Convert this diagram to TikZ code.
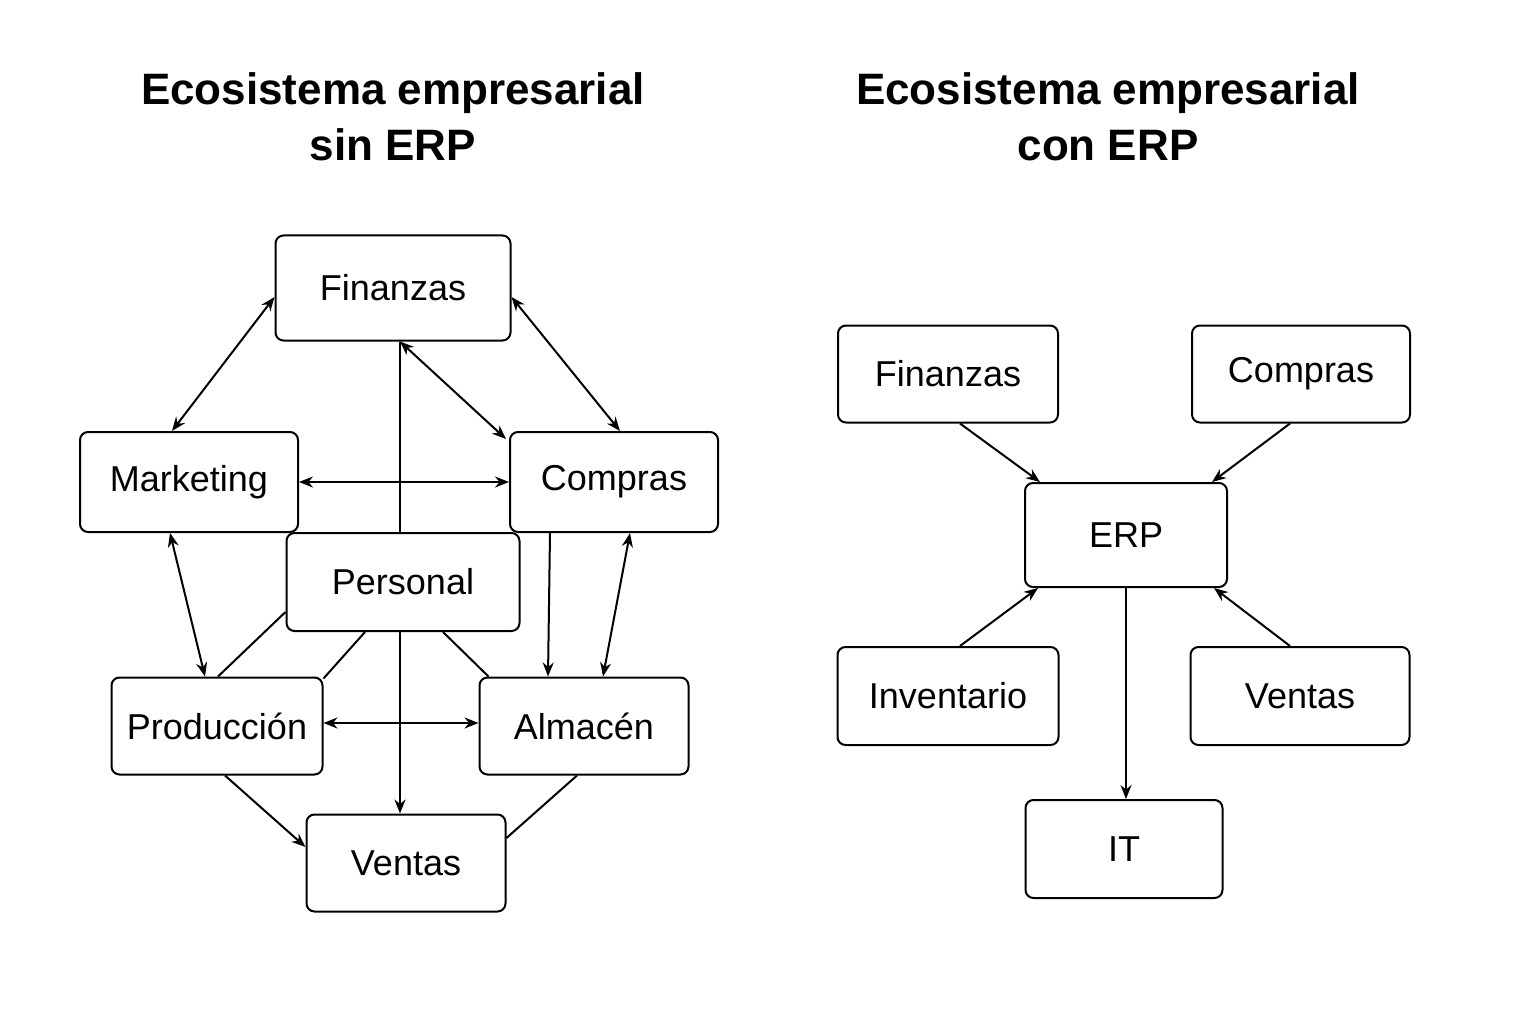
\documentclass[tikz,border=0pt]{standalone}
\usepackage{fontspec}
\setmainfont{Liberation Sans}
\usetikzlibrary{arrows.meta}
\begin{document}
\begin{tikzpicture}[x=1pt,y=-1pt,line width=2pt,
  >={Stealth[length=14pt,width=11pt]},
  box/.style={draw,rounded corners=8pt,inner sep=0pt,font=\fontsize{36}{40}\selectfont},
  title/.style={align=center,font=\fontsize{44}{56}\selectfont\bfseries}]
\useasboundingbox (0,0) rectangle (1536,1024);
% titulos
\node (t1) [title] at (393,117) {Ecosistema empresarial\\sin ERP};
\node (t2) [title] at (1108,117) {Ecosistema empresarial\\con ERP};
% sin ERP
\node (fin) [box,minimum width=235pt,minimum height=105pt] at (393,288) {Finanzas};
\node (mkt) [box,minimum width=218pt,minimum height=100pt] at (189,482) {Marketing};
\node (com) [box,minimum width=208pt,minimum height=100pt] at (614,482) {Compras};
\node (per) [box,minimum width=233pt,minimum height=98pt,fill=white] at (403,582) {Personal};
\node (pro) [box,minimum width=211pt,minimum height=97pt] at (217,726) {Producción};
\node (alm) [box,minimum width=209pt,minimum height=97pt] at (584,726) {Almacén};
\node (ven) [box,minimum width=199pt,minimum height=97pt] at (406,863) {Ventas};

\draw[<->] ([yshift=-9pt]fin.west) -- ([xshift=-17pt]mkt.north);
\draw[<->] ([yshift=-9pt]fin.east) -- ([xshift=6pt]com.north);
\draw[<->] ([xshift=7pt]fin.south) -- ([xshift=-3pt,yshift=-8pt]com.north west);
\draw ([xshift=7pt]fin.south) -- ([xshift=-3pt]per.north);
\draw[<->] (mkt.east) -- (com.west);
\draw[<->] ([xshift=-19pt]mkt.south) -- ([xshift=-12pt]pro.north);
\draw[<->] ([xshift=16pt]com.south) -- ([xshift=19pt]alm.north);
\draw[->] ([xshift=-64pt]com.south) -- ([xshift=-36pt]alm.north);
\draw ([yshift=-30pt]per.west) -- ([xshift=1pt]pro.north);
\draw ([xshift=-38pt]per.south) -- ([yshift=-2pt]pro.north east);
\draw ([xshift=40pt]per.south) -- ([xshift=10pt]alm.north west);
\draw[->] ([xshift=-3pt]per.south) -- ([xshift=-6pt]ven.north);
\draw[<->] ([yshift=3pt]pro.east) -- ([yshift=3pt]alm.west);
\draw[->] ([xshift=8pt]pro.south) -- ([yshift=16pt]ven.west);
\draw ([xshift=-7pt]alm.south) -- ([yshift=25pt]ven.east);
% con ERP
\node (rfin) [box,minimum width=220pt,minimum height=97pt] at (948,374) {Finanzas};
\node (rcom) [box,minimum width=218pt,minimum height=97pt] at (1301,374) {Compras};
\node (erp) [box,minimum width=202pt,minimum height=104pt] at (1126,535) {ERP};
\node (inv) [box,minimum width=221pt,minimum height=98pt] at (948,696) {Inventario};
\node (rven) [box,minimum width=219pt,minimum height=98pt] at (1300,696) {Ventas};
\node (it) [box,minimum width=197pt,minimum height=98pt] at (1124,849) {IT};

\draw[->] ([xshift=12pt]rfin.south) -- ([xshift=16pt]erp.north west);
\draw[->] ([xshift=-11pt]rcom.south) -- ([xshift=-16pt]erp.north east);
\draw[->] ([xshift=12pt]inv.north) -- ([xshift=14pt]erp.south west);
\draw[->] ([xshift=-10pt]rven.north) -- ([xshift=-14pt]erp.south east);
\draw[->] (erp.south) -- ([xshift=2pt]it.north);
\end{tikzpicture}
\end{document}
